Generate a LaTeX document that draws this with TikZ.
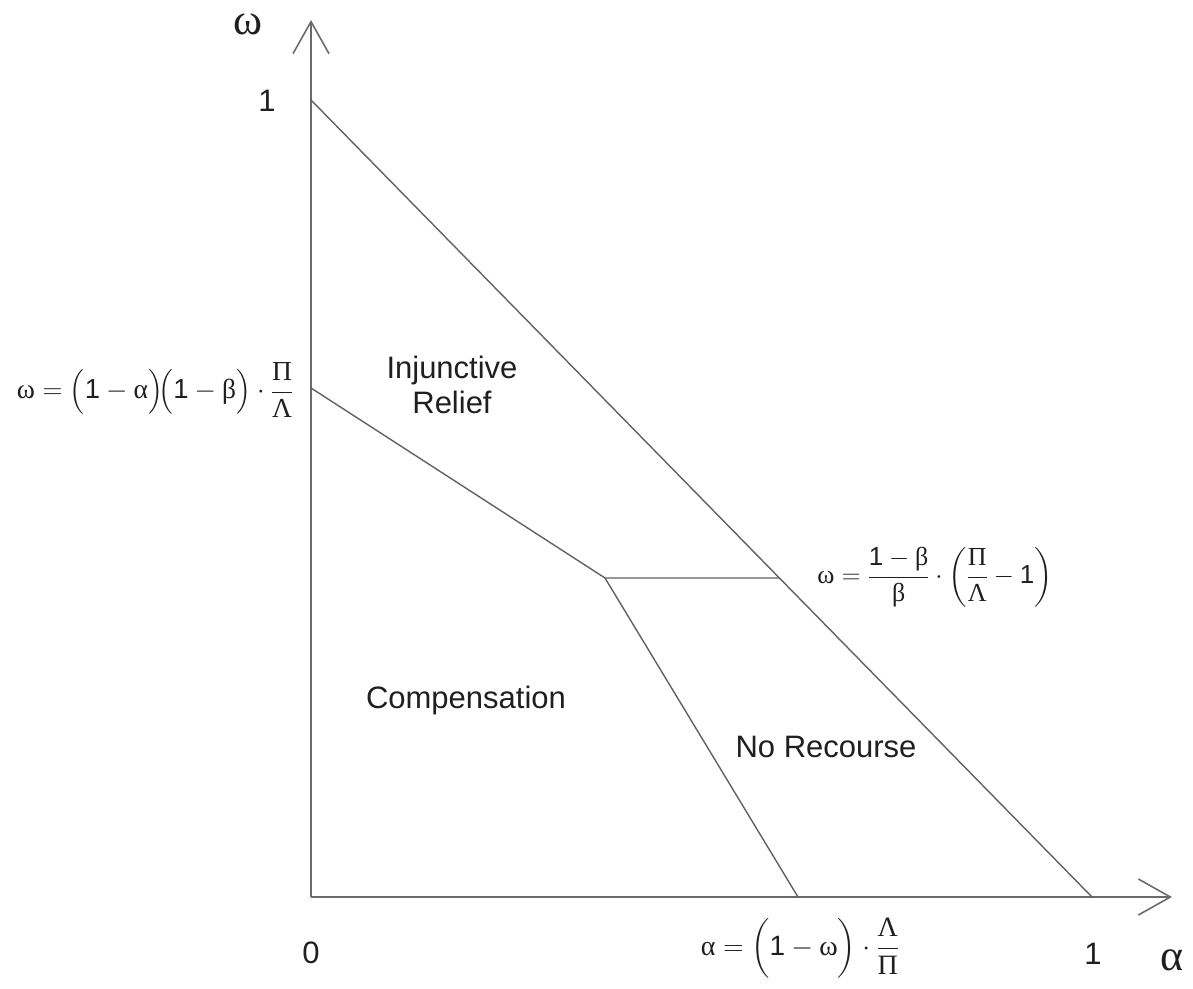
\RequirePackage{fix-cm}
\documentclass[tikz,border=0pt]{standalone}
\usepackage{amsmath}
\usepackage{fontspec}
\setmainfont{Liberation Sans}
\newfontfamily\grfont{Liberation Serif}
\usetikzlibrary{arrows.meta}
\newcommand\grk[1]{\mbox{\grfont #1}}
\newcommand\nm[1]{\mbox{#1}}
\begin{document}
\begin{tikzpicture}[x=1pt,y=-1pt,
  ln/.style={line width=1.4pt, draw=black!62},
  ax/.style={line width=1.6pt, draw=black!58, -{Straight Barb[length=32pt,width=36pt]}},
  region/.style={font=\fontsize{31}{35}\selectfont, text=black!88, align=center, inner sep=0},
  formula/.style={font=\fontsize{27.5}{31}\selectfont, text=black!88, inner sep=0},
  axlab/.style={font=\grfont\fontsize{44}{48}\selectfont, text=black!88, inner sep=0},
  ticklab/.style={font=\fontsize{31}{35}\selectfont, text=black!88, inner sep=0}
]
\useasboundingbox (0,0) rectangle (1193,988);
\coordinate (O) at (311,897);
\coordinate (Ytip) at (311,20);
\coordinate (Xtip) at (1172,897);
\coordinate (A) at (311,100);
\coordinate (B) at (1092,897);
\coordinate (C) at (311,388);
\coordinate (D) at (605,578);
\coordinate (E) at (779,578);
\coordinate (F) at (798,897);
% axes
\draw[ax] (O) -- (Ytip);
\draw[ax] (O) -- (Xtip);
% boundaries
\draw[ln] (A) -- (B);
\draw[ln] (C) -- (D) -- (E);
\draw[ln] (D) -- (F);
% axis labels
\node[axlab] (wlab) at (248,24) {ω};
\node[axlab] (alab) at (1172,960) {α};
\node[ticklab] (one-y) at (267,101) {1};
\node[ticklab] (zero) at (311,953) {0};
\node[ticklab] (one-x) at (1093,954) {1};
% regions
\node[region] (inj) at (452,385) {Injunctive\\Relief};
\node[region] (comp) at (466,700) {Compensation};
\node[region] (norec) at (826,747) {No Recourse};
% formulas
\node[formula] (f1) at (155,390) {$\grk{ω} = \Bigl(\nm{1} - \grk{α}\Bigr)\!\Bigl(\nm{1} - \grk{β}\Bigr)\cdot{\displaystyle\frac{\grk{Π}}{\grk{Λ}}}$};
\node[formula, font=\fontsize{26}{30}\selectfont] (f2) at (935,577) {$\grk{ω} = {\displaystyle\frac{\nm{1} - \grk{β}}{\grk{β}}}\cdot\left({\displaystyle\frac{\grk{Π}}{\grk{Λ}}} - \nm{1}\right)$};
\node[formula, font=\fontsize{28}{32}\selectfont] (f3) at (800,948) {$\grk{α} = \Bigl(\nm{1} - \grk{ω}\Bigr)\cdot{\displaystyle\frac{\grk{Λ}}{\grk{Π}}}$};
\end{tikzpicture}
\end{document}
